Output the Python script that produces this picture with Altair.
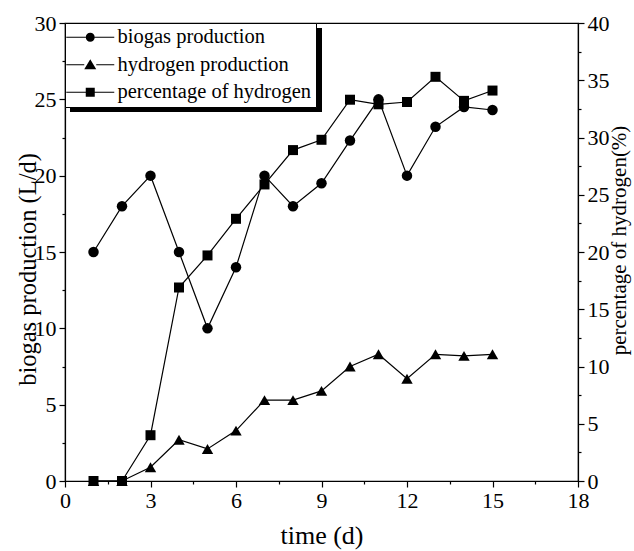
import altair as alt
import pandas as pd

# ---- data ----
days = [1, 2, 3, 4, 5, 6, 7, 8, 9, 10, 11, 12, 13, 14, 15]
biogas = [15, 18, 20, 15, 10, 14, 20, 18, 19.5, 22.3, 25, 20, 23.2, 24.5, 24.3]
hydrogen = [0, 0, 0.9, 2.7, 2.1, 3.3, 5.3, 5.3, 5.9, 7.5, 8.3, 6.7, 8.3, 8.2, 8.3]
percentage = [0, 0, 4.0, 16.9, 19.7, 22.9, 25.9, 28.9, 29.8, 33.3, 32.9, 33.1, 35.3, 33.2, 34.1]
series = ["biogas production", "hydrogen production", "percentage of hydrogen"]

x_ticks = [0, 1.5, 3, 4.5, 6, 7.5, 9, 10.5, 12, 13.5, 15, 16.5, 18]
left_ticks = [0, 2.5, 5, 7.5, 10, 12.5, 15, 17.5, 20, 22.5, 25, 27.5, 30]
right_ticks = [0, 2.5, 5, 7.5, 10, 12.5, 15, 17.5, 20, 22.5, 25, 27.5, 30, 32.5, 35, 37.5, 40]

df = pd.DataFrame({"day": days, "biogas": biogas, "h2": hydrogen, "pct": percentage})

FONT = "Liberation Serif"

# legend symbols: line - marker - line (unit coords, 1 unit = 10 px)
seg = "M-1.3,-0.06H{a}V0.06H-1.3Z M{b},-0.06H3.5V0.06H{b}Z "
legend_paths = [
    seg.format(a=0.65, b=1.55) + "M0.65,0A0.45,0.45 0 1,0 1.55,0A0.45,0.45 0 1,0 0.65,0Z",
    seg.format(a=0.5, b=1.7) + "M1.1,-0.55L1.7,0.45L0.5,0.45Z",
    seg.format(a=0.65, b=1.55) + "M0.65,-0.45H1.55V0.45H0.65Z",
]


def tick_size(step):
    return {"condition": {"test": f"datum.value % {step} === 0", "value": 6}, "value": 3}


x_axis = alt.Axis(
    values=x_ticks,
    labelExpr="datum.value % 3 === 0 ? datum.label : ''",
    tickSize=tick_size(3),
    labelFontSize=22,
    labelPadding=3,
    labelFlush=False,
    labelOverlap=False,
    titleFontSize=26,
    titleX=256.5,
    titleY=62,
    titleBaseline="alphabetic",
    grid=False,
)

left_axis = alt.Axis(
    values=left_ticks,
    labelExpr="datum.value % 5 === 0 ? datum.label : ''",
    tickSize=tick_size(5),
    labelFontSize=22,
    labelPadding=3,
    labelFlush=False,
    labelOverlap=False,
    titleFontSize=24.5,
    titleAngle=270,
    titleX=-30,
    titleY=246,
    titleBaseline="alphabetic",
    grid=False,
)

right_axis = alt.Axis(
    orient="right",
    values=right_ticks,
    labelExpr="datum.value % 5 === 0 ? datum.label : ''",
    tickSize=tick_size(5),
    labelFontSize=22,
    labelPadding=3,
    labelFlush=False,
    labelOverlap=False,
    titleFontSize=21,
    titleAngle=270,
    titleX=47,
    titleY=217,
    titleBaseline="alphabetic",
    grid=False,
)

base = alt.Chart(df)
X = alt.X("day:Q", scale=alt.Scale(domain=[0, 18], nice=False, zero=False), axis=x_axis, title="time (d)")


def YL(field):
    return alt.Y(f"{field}:Q", scale=alt.Scale(domain=[0, 30], nice=False),
                 axis=left_axis, title="biogas production (L/d)")


YR = alt.Y("pct:Q", scale=alt.Scale(domain=[0, 40], nice=False),
           axis=right_axis, title="percentage of hydrogen(%)")

line_kw = dict(color="black", strokeWidth=1.2)
pt_kw = dict(filled=True, color="black", opacity=1)

bio_line = base.mark_line(**line_kw).encode(x=X, y=YL("biogas"))
bio_pts = base.mark_point(shape="circle", size=110, **pt_kw).encode(x=X, y=YL("biogas"))
h2_line = base.mark_line(**line_kw).encode(x=X, y=YL("h2"))
h2_pts = base.mark_point(shape="triangle-up", size=130, **pt_kw).encode(x=X, y=YL("h2"))

legend_layer = base.transform_filter("false").mark_point(size=400, **pt_kw).encode(
    x=X,
    y=YL("biogas"),
    shape=alt.Shape(
        "series:N",
        scale=alt.Scale(domain=series, range=legend_paths),
        legend=alt.Legend(
            title=None,
            orient="none",
            legendX=0,
            legendY=0,
            fillColor="white",
            strokeColor="black",
            padding=4,
            rowPadding=6.5,
            labelFont=FONT,
            labelFontSize=20.5,
            labelColor="black",
            labelOffset=28,
            labelLimit=400,
            symbolSize=400,
            symbolFillColor="black",
            symbolStrokeWidth=0,
            symbolOpacity=1,
        ),
    ),
)

shadow = alt.Chart(pd.DataFrame({"k": [0]})).mark_rect(color="black").encode(
    x=alt.value(5), x2=alt.value(257), y=alt.value(5), y2=alt.value(89)
)

pct_line = base.mark_line(**line_kw).encode(x=X, y=YR)
pct_pts = base.mark_point(shape="square", size=100, **pt_kw).encode(x=X, y=YR)

left = alt.layer(shadow, bio_line, bio_pts, h2_line, h2_pts, legend_layer)
right = alt.layer(pct_line, pct_pts)

chart = (
    alt.layer(left, right)
    .resolve_scale(y="independent", shape="independent")
    .properties(
        width=513,
        height=458,
        autosize="none",
        padding={"left": 65, "top": 23, "right": 56, "bottom": 70},
        background="white",
    )
    .configure_view(stroke="black", strokeWidth=1.2)
    .configure_axis(
        domainColor="black",
        domainWidth=1.2,
        tickColor="black",
        tickWidth=1.2,
        labelColor="black",
        titleColor="black",
        labelFont=FONT,
        titleFont=FONT,
        titleFontWeight="normal",
    )
)

chart.save("out.html", embed_options={"renderer": "svg", "actions": False})
